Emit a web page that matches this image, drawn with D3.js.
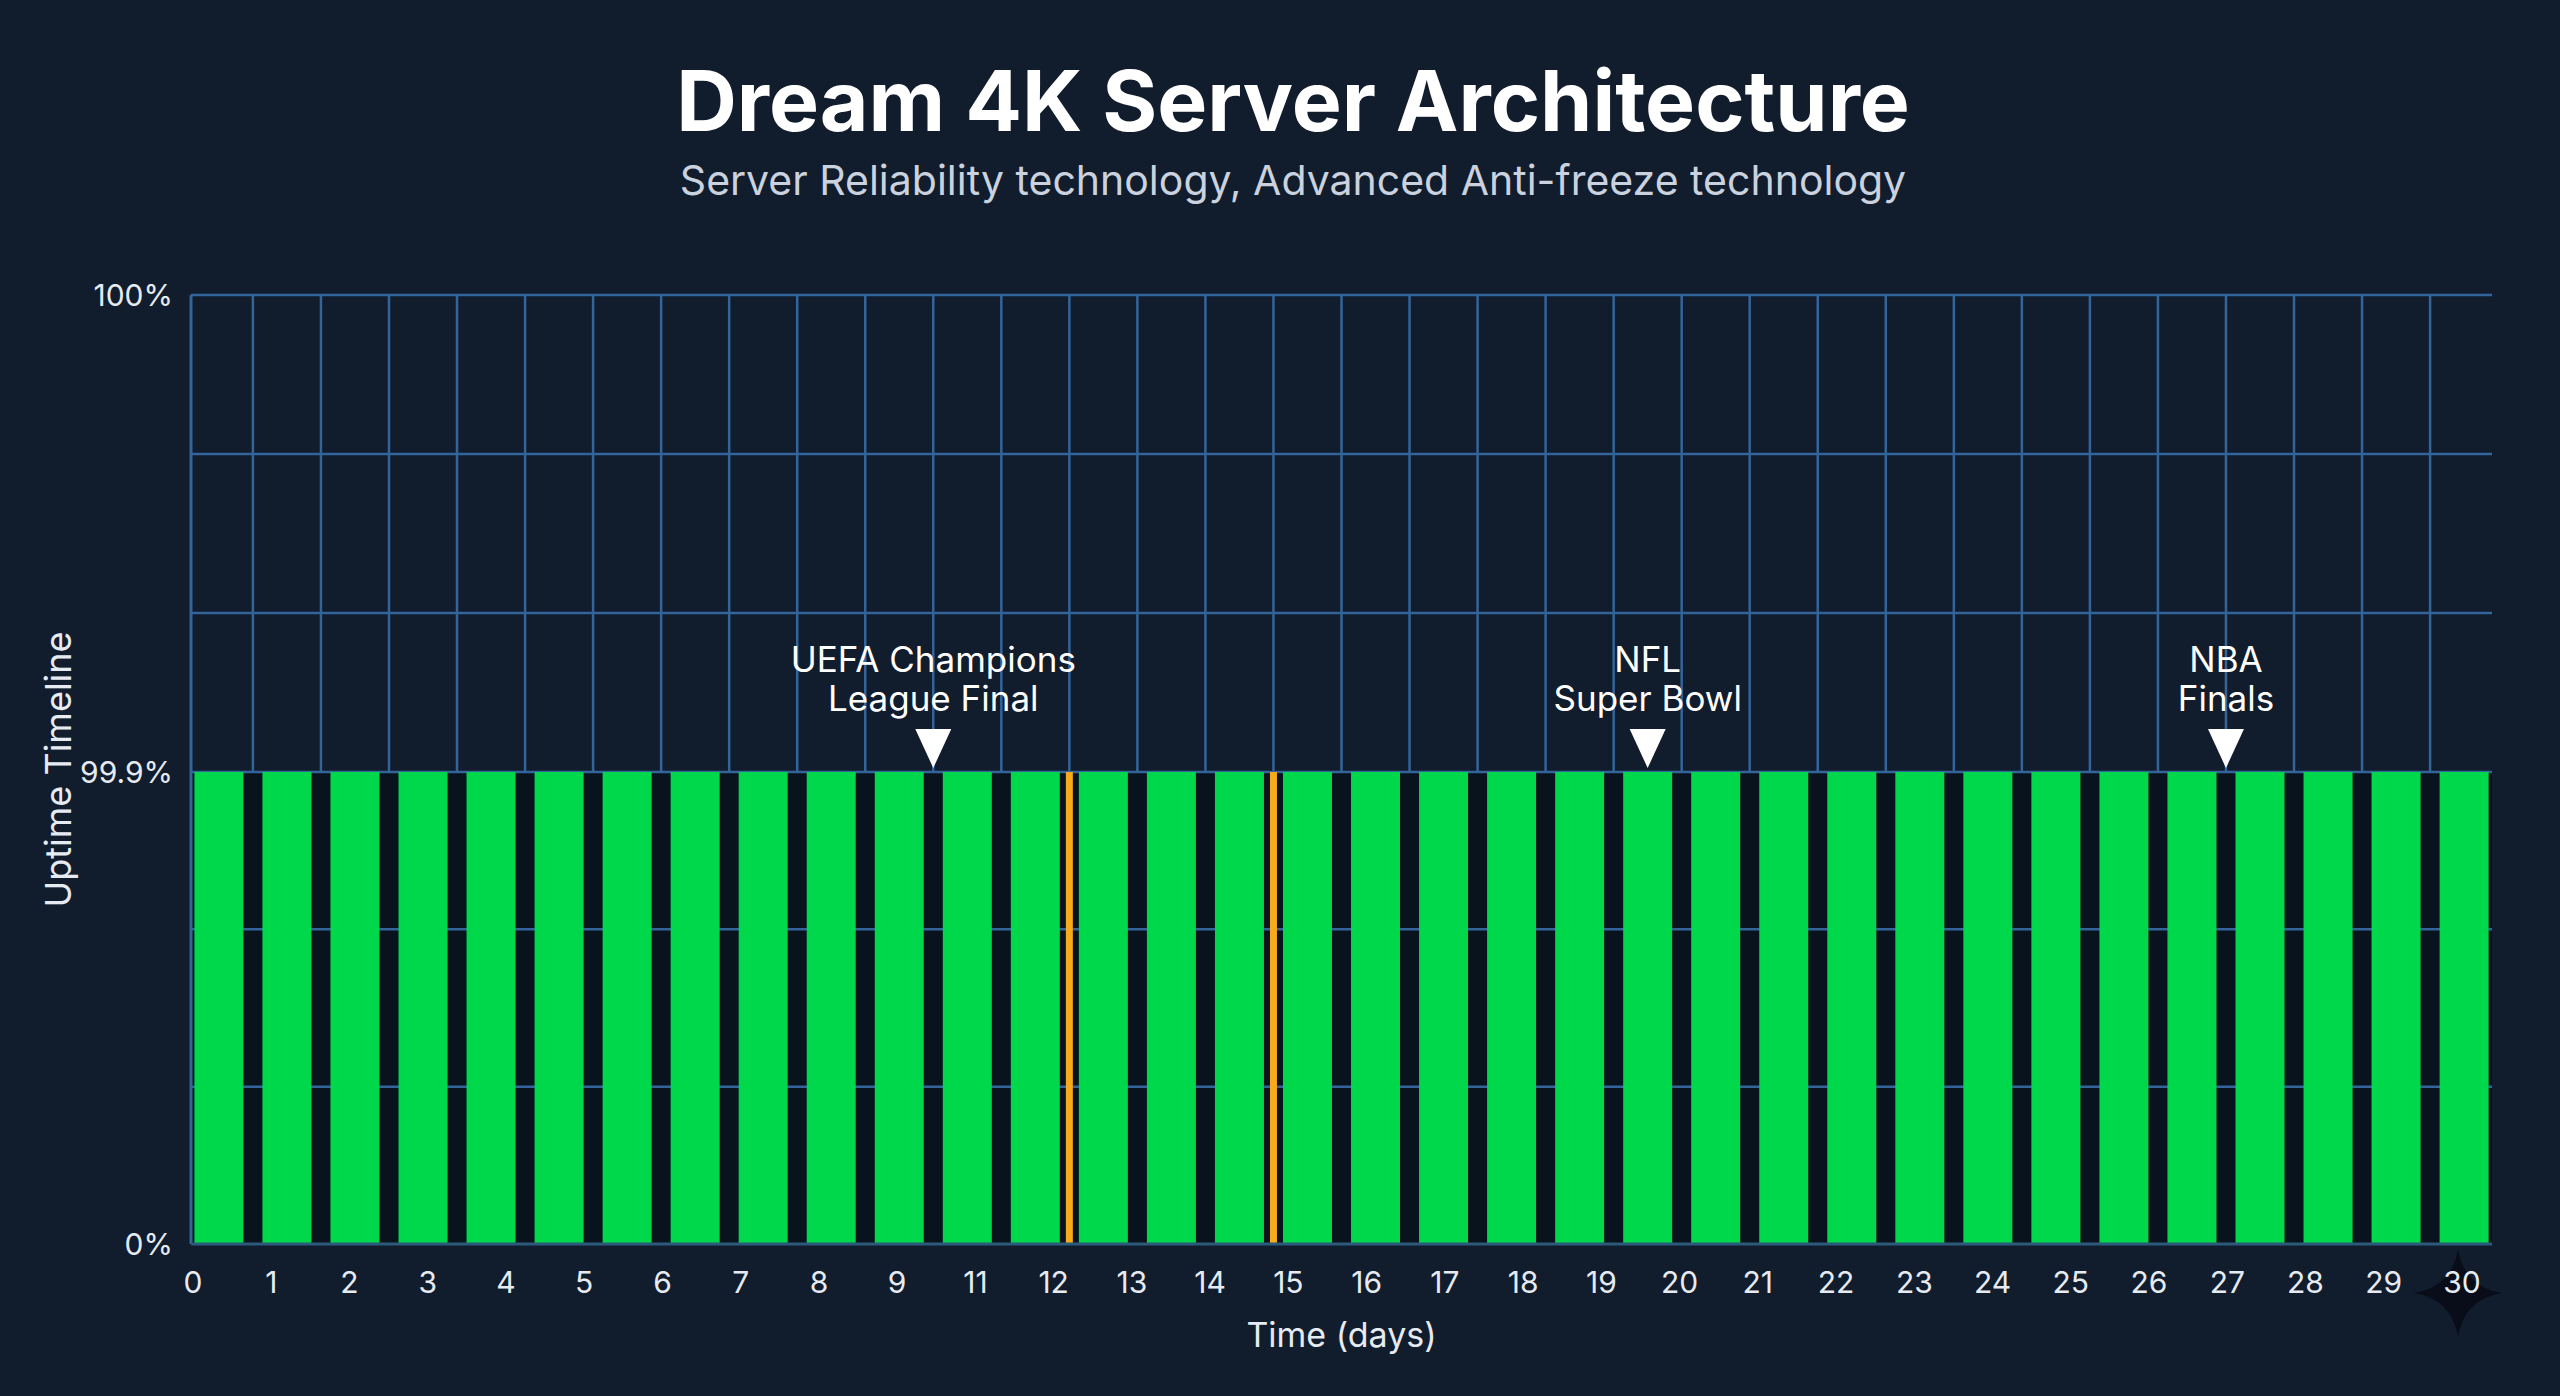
<!DOCTYPE html>
<html>
<head>
<meta charset="utf-8">
<script src="https://cdn.jsdelivr.net/npm/d3@7"></script>
<style>
  body { margin: 0; background: #101c2b; overflow: hidden; }
  text { font-family: Inter, "Noto Sans", sans-serif; }
</style>
</head>
<body>
<div id="chart"></div>
<script>
// uptime per segment of the timeline (%)
var uptime = [99.9, 99.9, 99.9, 99.9, 99.9, 99.9, 99.9, 99.9, 99.9, 99.9,
              99.9, 99.9, 99.9, 99.9, 99.9, 99.9, 99.9, 99.9, 99.9, 99.9,
              99.9, 99.9, 99.9, 99.9, 99.9, 99.9, 99.9, 99.9, 99.9, 99.9,
              99.9, 99.9, 99.9, 99.9]
// short interruptions, between segments
var outages = [13, 16]
// tick labels as printed (no 10)
var dayLabels = ['0','1','2','3','4','5','6','7','8','9','11','12','13','14','15',
                 '16','17','18','19','20','21','22','23','24','25','26','27','28','29','30']
var yTickValues = [0, 99.9, 100]
var yTickLabels = ['0%', '99.9%', '100%']
// events: position in segments, label lines
var eventPos = [11, 21.5, 30]
var eventLabels = [['UEFA Champions', 'League Final'], ['NFL', 'Super Bowl'], ['NBA', 'Finals']]

var chart_width = 2560
var chart_height = 1396
var plotLeft = 191, plotRight = 2492, plotTop = 295, plotBottom = 1244, plotMid = 772

var svg = d3.select('#chart')
    .append('svg')
    .attr('width', chart_width)
    .attr('height', chart_height)

svg.append('rect')
    .attr('width', chart_width)
    .attr('height', chart_height)
    .attr('fill', '#111c2c')

// piecewise y: bottom half 0..99.9, top half 99.9..100
var y = d3.scaleLinear()
    .domain(yTickValues)
    .range([plotBottom, plotMid, plotTop])

var x = d3.scaleBand()
    .domain(d3.range(uptime.length))
    .range([plotLeft, plotRight])
    .paddingInner(0.28)
    .paddingOuter(0.05)

function boundary(k) {
    return x(0) + k * x.step() - x.step() * x.paddingInner() / 2
}

var xDays = d3.scalePoint()
    .domain(dayLabels)
    .range([193, 2462])

var gridColor = '#33649a'

// grid values: each half split into 3
var lowGrid = d3.range(1, 3).map(function(i){ return yTickValues[1] * i / 3 })
var highGrid = d3.range(1, 3).map(function(i){ return yTickValues[1] + (yTickValues[2] - yTickValues[1]) * i / 3 })

// dark band behind the bars
svg.append('rect')
    .attr('x', plotLeft)
    .attr('y', y(99.9))
    .attr('width', plotRight - plotLeft)
    .attr('height', y(0) - y(99.9))
    .attr('fill', '#09131d')

// low grid (only shows in gaps)
svg.selectAll('.lowgrid')
    .data(lowGrid)
    .enter()
    .append('line')
    .attr('x1', plotLeft).attr('x2', plotRight)
    .attr('y1', function(d){ return y(d) })
    .attr('y2', function(d){ return y(d) })
    .attr('stroke', gridColor)
    .attr('stroke-width', 2.5)

// high grid
svg.selectAll('.highgrid')
    .data(highGrid.concat([yTickValues[1], yTickValues[2]]))
    .enter()
    .append('line')
    .attr('x1', plotLeft).attr('x2', plotRight)
    .attr('y1', function(d){ return y(d) })
    .attr('y2', function(d){ return y(d) })
    .attr('stroke', gridColor)
    .attr('stroke-width', 2.5)

svg.selectAll('.vgrid')
    .data(d3.range(1, uptime.length))
    .enter()
    .append('line')
    .attr('x1', function(d){ return boundary(d) })
    .attr('x2', function(d){ return boundary(d) })
    .attr('y1', y(100))
    .attr('y2', y(99.9))
    .attr('stroke', gridColor)
    .attr('stroke-width', 2.5)

// bars
svg.selectAll('.bar')
    .data(uptime)
    .enter()
    .append('rect')
    .attr('x', function(d,i){ return x(i) })
    .attr('y', function(d){ return y(d) })
    .attr('width', x.bandwidth())
    .attr('height', function(d){ return y(0) - y(d) })
    .attr('fill', '#00d84c')

// outages
svg.selectAll('.outage')
    .data(outages)
    .enter()
    .append('rect')
    .attr('x', function(d){ return boundary(d) - 3.5 })
    .attr('y', y(99.9))
    .attr('width', 7)
    .attr('height', y(0) - y(99.9))
    .attr('fill', '#f6aa1c')

// axis lines
svg.append('line')
    .attr('x1', plotLeft).attr('x2', plotLeft)
    .attr('y1', plotTop).attr('y2', plotBottom)
    .attr('stroke', gridColor).attr('stroke-width', 3)
svg.append('line')
    .attr('x1', plotLeft).attr('x2', plotRight)
    .attr('y1', plotBottom).attr('y2', plotBottom)
    .attr('stroke', '#2b5a7a').attr('stroke-width', 3)

// y tick labels
svg.selectAll('.ytick')
    .data(yTickValues)
    .enter()
    .append('text')
    .text(function(d,i){ return yTickLabels[i] })
    .attr('x', 173)
    .attr('y', function(d){ return y(d) })
    .attr('dy', '0.36em')
    .attr('text-anchor', 'end')
    .attr('font-size', 30)
    .attr('fill', '#e6ebf2')

// watermark sparkle
var sx = 2458, sy = 1293, r = 44, c = r * 0.14
svg.append('path')
    .attr('d', 'M' + sx + ',' + (sy - r) +
        'Q' + (sx + c) + ',' + (sy - c) + ' ' + (sx + r) + ',' + sy +
        'Q' + (sx + c) + ',' + (sy + c) + ' ' + sx + ',' + (sy + r) +
        'Q' + (sx - c) + ',' + (sy + c) + ' ' + (sx - r) + ',' + sy +
        'Q' + (sx - c) + ',' + (sy - c) + ' ' + sx + ',' + (sy - r) + 'Z')
    .attr('fill', '#080d19')

// x tick labels
svg.selectAll('.xtick')
    .data(dayLabels)
    .enter()
    .append('text')
    .text(function(d){ return d })
    .attr('x', function(d){ return xDays(d) })
    .attr('y', 1293)
    .attr('text-anchor', 'middle')
    .attr('font-size', 30)
    .attr('fill', '#e6ebf2')

// axis titles
svg.append('text')
    .text('Time (days)')
    .attr('x', (plotLeft + plotRight) / 2)
    .attr('y', 1347)
    .attr('text-anchor', 'middle')
    .attr('font-size', 34)
    .attr('fill', '#e6ebf2')

svg.append('text')
    .text('Uptime Timeline')
    .attr('transform', 'translate(71,' + (plotTop + plotBottom) / 2 + ') rotate(-90)')
    .attr('text-anchor', 'middle')
    .attr('font-size', 36)
    .attr('fill', '#e6ebf2')

// events
var ev = svg.selectAll('.event')
    .data(eventPos)
    .enter()
    .append('g')
    .attr('transform', function(d){ return 'translate(' + boundary(d) + ',0)' })

ev.append('path')
    .attr('d', 'M-18,729L18,729L0,768Z')
    .attr('fill', '#ffffff')

ev.each(function(d,i){
    d3.select(this).selectAll('text')
        .data(eventLabels[i])
        .enter()
        .append('text')
        .text(function(t){ return t })
        .attr('y', function(t,j){ return 672 + j * 39 })
        .attr('text-anchor', 'middle')
        .attr('font-size', 35)
        .attr('fill', '#ffffff')
})

// titles
svg.append('text')
    .text('Dream 4K Server Architecture')
    .attr('x', 1293)
    .attr('y', 131)
    .attr('text-anchor', 'middle')
    .attr('font-size', 84)
    .attr('font-weight', 700)
    .attr('fill', '#ffffff')

svg.append('text')
    .text('Server Reliability technology, Advanced Anti-freeze technology')
    .attr('x', 1293)
    .attr('y', 195)
    .attr('text-anchor', 'middle')
    .attr('font-size', 41)
    .attr('fill', '#c9d2de')
</script>
</body>
</html>
